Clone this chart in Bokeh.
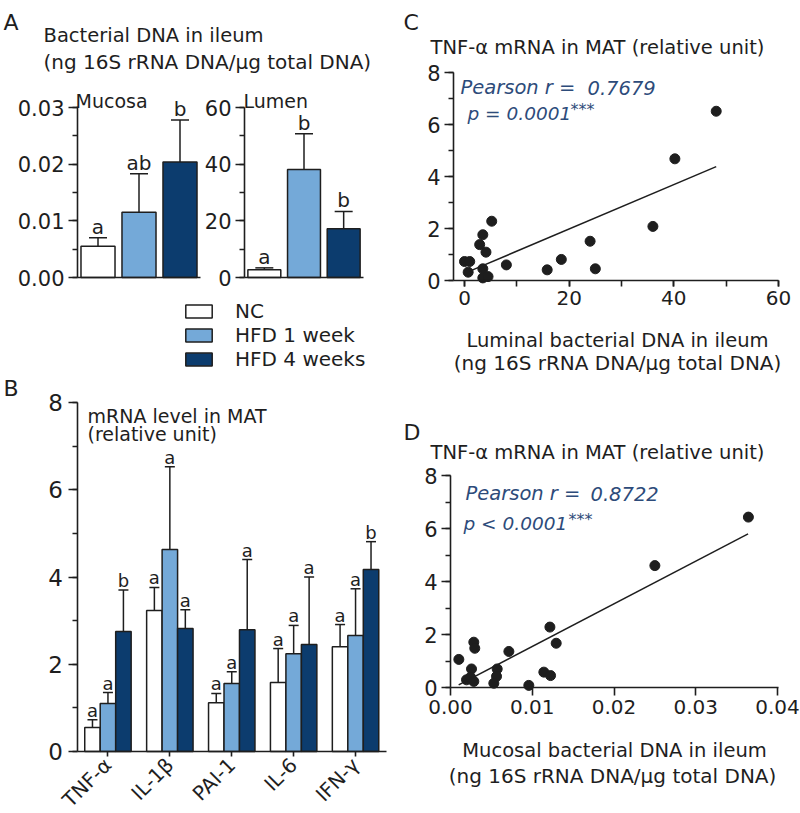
import math
from bokeh.plotting import figure
from bokeh.models import (ColumnDataSource, Range1d, SingleIntervalTicker, FixedTicker,
                          NumeralTickFormatter, Label, Legend, LegendItem, LinearAxis)
from bokeh.transform import dodge
from bokeh.embed import file_html
from bokeh.resources import INLINE
from bokeh.core.properties import value

FONT = "DejaVu Sans"
INK = "#1e1e1e"
STAT_COLOR = "#2d4b7a"

# ---------------- data ----------------
groups = ["NC", "HFD 1 week", "HFD 4 weeks"]
group_colors = ["#ffffff", "#74a9d8", "#0c3c6e"]

mucosa_mean = [0.0055, 0.0115, 0.0204]
mucosa_upper = [0.0070, 0.0183, 0.0278]
mucosa_letters = ["a", "ab", "b"]

lumen_mean = [2.7, 38.1, 17.2]
lumen_upper = [3.4, 50.7, 23.3]
lumen_letters = ["a", "b", "b"]

cytokines = ["TNF-α", "IL-1β", "PAI-1", "IL-6", "IFN-γ"]
nc_mrna = [0.55, 3.23, 1.12, 1.58, 2.40]
nc_mrna_upper = [0.73, 3.76, 1.33, 2.36, 2.91]
nc_letters = ["a", "a", "a", "a", "a"]
hfd1_mrna = [1.10, 4.63, 1.56, 2.24, 2.66]
hfd1_mrna_upper = [1.35, 6.53, 1.83, 2.89, 3.73]
hfd1_letters = ["a", "a", "a", "a", "a"]
hfd4_mrna = [2.75, 2.82, 2.79, 2.45, 4.17]
hfd4_mrna_upper = [3.70, 3.25, 4.40, 4.00, 4.81]
hfd4_letters = ["b", "a", "a", "a", "b"]

c_luminal = [0.0, 1.0, 0.7, 2.9, 3.5, 4.1, 5.2, 3.5, 3.5, 4.5, 8.0, 15.8, 18.5, 24.0, 25.0, 36.0, 40.2, 48.1]
c_tnf = [0.73, 0.73, 0.32, 1.38, 1.76, 1.09, 2.28, 0.45, 0.10, 0.15, 0.60, 0.41, 0.81, 1.51, 0.45, 2.08, 4.68, 6.51]
c_fit_x = [1.0, 48.1]
c_fit_y = [0.36, 4.38]

d_mucosal = [0.00102, 0.00285, 0.00297, 0.00257, 0.00196, 0.00245, 0.00285, 0.00571, 0.00563,
             0.00530, 0.00714, 0.00958, 0.01216, 0.01293, 0.01142, 0.01224, 0.0250, 0.03644]
d_tnf = [1.06, 1.71, 1.48, 0.70, 0.29, 0.39, 0.23, 0.70, 0.42, 0.16, 1.36, 0.08, 2.28, 1.67, 0.58, 0.45, 4.60, 6.43]
d_fit_x = [0.0010, 0.0364]
d_fit_y = [0.10, 5.80]

# ---------------- canvas & panel scales ----------------
W, H = 800, 813


def lin_range(d0, d1, p0, p1, total):
    """Range whose values d0, d1 fall at canvas pixels p0, p1."""
    k = (d1 - d0) / (p1 - p0)
    start = d0 - p0 * k
    return Range1d(start, start + total * k)


def yb(ref_y):
    """canvas pixel measured from the bottom"""
    return H - ref_y


p = figure(width=W, height=H, x_range=Range1d(0, W), y_range=Range1d(0, H),
           x_axis_location=None, y_axis_location=None, toolbar_location=None,
           output_backend="svg", min_border=0)
p.outline_line_color = None
p.background_fill_color = "white"
p.border_fill_color = "white"
p.grid.visible = False

p.extra_x_ranges = {
    "ax": lin_range(-0.5, 2.5, 77, 200, W),
    "lx": lin_range(-0.5, 2.5, 244, 363, W),
    "bx": lin_range(-0.5, 4.5, 76.5, 386, W),
    "cx": lin_range(0, 60, 464, 778, W),
    "dx": lin_range(0, 0.04, 450, 777, W),
}
p.extra_y_ranges = {
    "ay": lin_range(0, 0.03, yb(277), yb(107), H),
    "ly": lin_range(0, 60, yb(277), yb(107), H),
    "by": lin_range(0, 8, yb(751), yb(402), H),
    "cy": lin_range(0, 8, yb(280), yb(72), H),
    "dy": lin_range(0, 8, yb(687), yb(475), H),
}


def style_axis(ax, fs, tick_out=8, minor_out=5, lw=1.6, standoff=4):
    ax.axis_line_color = INK
    ax.axis_line_width = lw
    ax.major_tick_line_color = INK
    ax.major_tick_line_width = lw
    ax.major_tick_out = tick_out
    ax.major_tick_in = 0
    ax.minor_tick_line_color = INK
    ax.minor_tick_line_width = lw
    ax.minor_tick_out = minor_out
    ax.minor_tick_in = 0
    ax.major_label_text_font = FONT
    ax.major_label_text_font_size = fs
    ax.major_label_text_color = INK
    ax.major_label_standoff = standoff


def add_axis(side, xr, yr, loc, bounds, ticker, fs="20px", formatter=None, **kw):
    ax = LinearAxis(x_range_name=xr, y_range_name=yr, fixed_location=loc, bounds=bounds,
                    ticker=ticker)
    if formatter is not None:
        ax.formatter = formatter
    style_axis(ax, fs, **kw)
    p.add_layout(ax, side)
    return ax


def lab(x, ref_y, text, size="19px", color=INK, style="normal", align="left"):
    p.add_layout(Label(x=x, y=yb(ref_y), x_units="screen", y_units="screen", text=text,
                       text_font=FONT, text_font_size=size, text_color=color,
                       text_font_style=style, text_align=align, text_baseline="alphabetic"))


def bars_with_errors(xr, yr, idx, means, uppers, letters, width, color, off, cap, letter_fs):
    src = ColumnDataSource(dict(idx=idx, mean=means, upper=uppers, letter=letters))
    xs = dodge("idx", off)
    r = p.vbar(x=xs, top="mean", width=width, source=src, fill_color=color,
               line_color=INK, line_width=1.5, x_range_name=xr, y_range_name=yr)
    p.segment(x0=xs, y0="mean", x1=xs, y1="upper", source=src, line_color=INK,
              line_width=1.5, x_range_name=xr, y_range_name=yr)
    p.scatter(x=xs, y="upper", source=src, marker="dash", size=cap, line_color=INK,
              line_width=1.5, x_range_name=xr, y_range_name=yr)
    p.text(x=xs, y="upper", text="letter", source=src, text_align="center",
           text_baseline="bottom", y_offset=1, text_font=value(FONT),
           text_font_size=letter_fs, text_color=INK, x_range_name=xr, y_range_name=yr)
    return r


# ---------------- A: mucosa / lumen ----------------
for i, g in enumerate(groups):
    bars_with_errors("ax", "ay", [i], [mucosa_mean[i]], [mucosa_upper[i]], [mucosa_letters[i]],
                     0.83, group_colors[i], 0, 18, "20px")
    bars_with_errors("lx", "ly", [i], [lumen_mean[i]], [lumen_upper[i]], [lumen_letters[i]],
                     0.83, group_colors[i], 0, 18, "20px")

add_axis("left", "ax", "ay", -0.5, (0, 0.0301), SingleIntervalTicker(interval=0.01, num_minor_ticks=2),
         "21px", NumeralTickFormatter(format="0.00"), tick_out=9, minor_out=5)
add_axis("below", "ax", "ay", 0, (-0.5, 2.5), FixedTicker(ticks=[], minor_ticks=[]), "0px")
add_axis("left", "lx", "ly", -0.5, (0, 60), SingleIntervalTicker(interval=20, num_minor_ticks=2),
         "21px", tick_out=9, minor_out=5)
add_axis("below", "lx", "ly", 0, (-0.5, 2.5), FixedTicker(ticks=[], minor_ticks=[]), "0px")

lab(3, 22, "A", "22px")
lab(43, 35, "Bacterial DNA in ileum", "19.5px")
lab(43, 61, "(ng 16S rRNA DNA/μg total DNA)", "20px")
lab(75, 100, "Mucosa", "19px")
lab(243, 100, "Lumen", "19px")

# ---------------- B: mRNA bars ----------------
cyto_idx = list(range(len(cytokines)))
series = [
    ("NC", nc_mrna, nc_mrna_upper, nc_letters, group_colors[0], -0.25),
    ("HFD 1 week", hfd1_mrna, hfd1_mrna_upper, hfd1_letters, group_colors[1], 0.0),
    ("HFD 4 weeks", hfd4_mrna, hfd4_mrna_upper, hfd4_letters, group_colors[2], 0.25),
]
legend_items = []
for name, means, uppers, letters, color, off in series:
    r = bars_with_errors("bx", "by", cyto_idx, means, uppers, letters, 0.25, color, off, 10, "18px")
    legend_items.append(LegendItem(label=name, renderers=[r]))

legend = Legend(items=legend_items, location=(182, yb(370.5)), glyph_width=33, glyph_height=16,
                label_standoff=20, spacing=0, padding=0, margin=0, label_height=16,
                border_line_color=None, background_fill_alpha=0,
                label_text_font=FONT, label_text_font_size="20px", label_text_color=INK)
p.add_layout(legend)

add_axis("left", "bx", "by", -0.5, (0, 8), SingleIntervalTicker(interval=2, num_minor_ticks=2),
         "23px", tick_out=9, minor_out=5, standoff=5)
bx_axis = add_axis("below", "bx", "by", 0, (-0.5, 4.5), FixedTicker(ticks=cyto_idx, minor_ticks=[]),
                   "20px", tick_out=5, minor_out=0, standoff=5)
bx_axis.major_label_overrides = {i: name for i, name in enumerate(cytokines)}
bx_axis.major_label_orientation = math.pi / 4

lab(3, 388, "B", "22px")
lab(87, 415, "mRNA level in MAT", "19px")
lab(87, 433, "(relative unit)", "19px")

# ---------------- C: luminal scatter ----------------
p.scatter(c_luminal, c_tnf, size=10, color=INK, x_range_name="cx", y_range_name="cy")
p.line(c_fit_x, c_fit_y, line_color=INK, line_width=1.5, x_range_name="cx", y_range_name="cy")
add_axis("left", "cx", "cy", -2.1, (0, 8), SingleIntervalTicker(interval=2, num_minor_ticks=2),
         "21px", tick_out=9, minor_out=5)
add_axis("below", "cx", "cy", 0, (-2.1, 60.05), SingleIntervalTicker(interval=20, num_minor_ticks=2),
         "20px", tick_out=6, minor_out=6, standoff=4)

lab(403, 22, "C", "22px")
lab(430, 47, "TNF-α mRNA in MAT (relative unit)", "19.5px")
lab(460, 87, "Pearson r =", "19.5px", STAT_COLOR, "italic")
lab(587, 87, "0.7679", "19.5px", STAT_COLOR, "italic")
lab(467, 113, "p = 0.0001", "18.5px", STAT_COLOR, "italic")
lab(570, 109, "***", "16px", STAT_COLOR, "italic")
lab(617, 340, "Luminal bacterial DNA in ileum", "19.5px", align="center")
lab(617, 362, "(ng 16S rRNA DNA/μg total DNA)", "20px", align="center")

# ---------------- D: mucosal scatter ----------------
p.scatter(d_mucosal, d_tnf, size=10, color=INK, x_range_name="dx", y_range_name="dy")
p.line(d_fit_x, d_fit_y, line_color=INK, line_width=1.5, x_range_name="dx", y_range_name="dy")
add_axis("left", "dx", "dy", 0, (0, 8), SingleIntervalTicker(interval=2, num_minor_ticks=2),
         "21px", tick_out=9, minor_out=5)
add_axis("below", "dx", "dy", 0, (0, 0.0401), SingleIntervalTicker(interval=0.01, num_minor_ticks=0),
         "20px", NumeralTickFormatter(format="0.00"), tick_out=8, minor_out=0, standoff=4)

lab(403, 432, "D", "22px")
lab(430, 452, "TNF-α mRNA in MAT (relative unit)", "19.5px")
lab(465, 493, "Pearson r =", "19.5px", STAT_COLOR, "italic")
lab(590, 493, "0.8722", "19.5px", STAT_COLOR, "italic")
lab(463, 523, "p < 0.0001", "18.5px", STAT_COLOR, "italic")
lab(568, 519, "***", "16px", STAT_COLOR, "italic")
lab(614, 750, "Mucosal bacterial DNA in ileum", "19.5px", align="center")
lab(612, 775, "(ng 16S rRNA DNA/μg total DNA)", "20px", align="center")

open("out.html", "w").write(file_html(p, INLINE))
